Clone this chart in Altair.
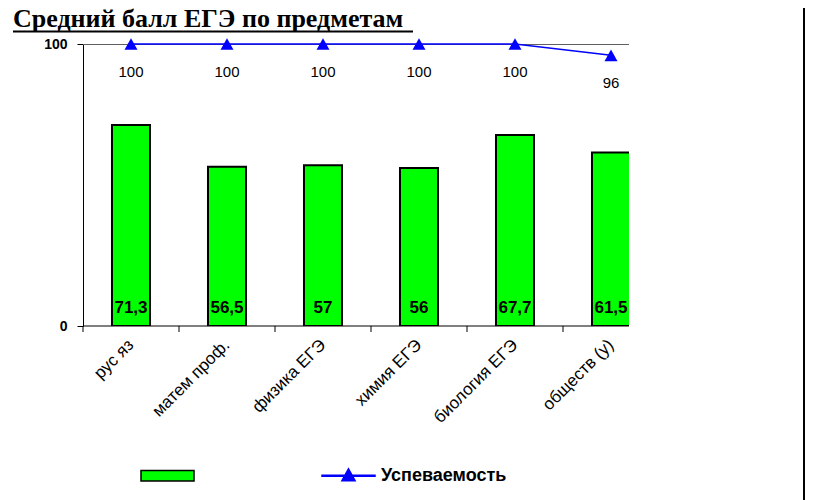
import altair as alt
import pandas as pd

# ---- data ----
categories = ["рус яз", "матем проф.", "физика ЕГЭ", "химия ЕГЭ", "биология ЕГЭ", "обществ (у)"]
avg_scores = [71.3, 56.5, 57, 56, 67.7, 61.5]
success = [100, 100, 100, 100, 100, 96]
series_names = ["Средний балл", "Успеваемость"]
title_text = "Средний балл ЕГЭ по предметам"

df = pd.DataFrame({"cat": categories, "score": avg_scores, "succ": success})
df["score_label"] = [f"{v:g}".replace(".", ",") for v in avg_scores]
legend_df = pd.DataFrame({"series": series_names, "v": [None, None]})
one = pd.DataFrame({"t": [title_text]})

W, H = 546, 282
FONT = "Liberation Sans, Arial, sans-serif"
TRI = "M0,-0.9L1,0.9L-1,0.9Z"
BOX = "M-1,-0.2H1V0.2H-1Z"
LINETRI = "M-1,-0.015H1V0.015H-1Z M0,-0.26L0.25,0.19L-0.25,0.19Z"

xs = alt.Scale(domain=categories, range=[0, 576], paddingInner=0, paddingOuter=0)
ys = alt.Scale(domain=[0, 100], nice=False, zero=True)

x_axis = alt.Axis(title=None, domain=False, ticks=False, labelAngle=-45,
                  labelAlign="right", labelBaseline="middle", labelPadding=16,
                  labelFont=FONT, labelFontSize=17, labelColor="#000",
                  labelOverlap=False, labelLimit=0, grid=False)
y_axis = alt.Axis(title=None, values=[0, 100], grid=False,
                  domainColor="#000", tickColor="#000", tickSize=6, labelPadding=10,
                  labelFont=FONT, labelFontWeight="bold", labelFontSize=14,
                  labelColor="#000")

X = alt.X("cat:N", scale=xs, sort=categories, axis=x_axis)

top_grid = alt.Chart(one).mark_rule(color="#606060", strokeWidth=1).encode(
    x=alt.value(0), x2=alt.value(W), y=alt.value(0.5))

bars = alt.Chart(df).mark_bar(width={"band": 0.396}, fill="#00ff00", stroke="#000",
                              strokeWidth=2, clip=True).encode(
    x=X, y=alt.Y("score:Q", scale=ys, axis=y_axis))

bar_labels = alt.Chart(df).mark_text(baseline="alphabetic", dy=-13, font=FONT,
                                     fontWeight="bold", fontSize=17, color="#000").encode(
    x=X, y=alt.Y(datum=0, scale=ys, axis=y_axis), text="score_label:N")

line = alt.Chart(df).mark_line(color="#0000ff", strokeWidth=1.5).encode(
    x=X, y=alt.Y("succ:Q", scale=ys, axis=y_axis))

points = alt.Chart(df).mark_point(shape=TRI, filled=True, size=169, color="#0000ff",
                                  opacity=1).encode(
    x=X, y=alt.Y("succ:Q", scale=ys, axis=y_axis))

line_labels = alt.Chart(df).mark_text(baseline="alphabetic", dy=33, font=FONT,
                                      fontSize=15, color="#000").encode(
    x=X, y=alt.Y("succ:Q", scale=ys, axis=y_axis), text="succ:Q")

ticks = alt.Chart(df).mark_rule(color="#000", strokeWidth=1).encode(
    x=alt.X("cat:N", scale=xs, sort=categories, axis=x_axis, bandPosition=0),
    y=alt.value(H), y2=alt.value(H + 6))

x_line = alt.Chart(one).mark_rule(color="#000", strokeWidth=1).encode(
    x=alt.value(0), x2=alt.value(W), y=alt.value(H))

leg = alt.Legend(orient="none", legendX=57, legendY=404, direction="horizontal",
                 title=None,
                 labelExpr="datum.label == 'Успеваемость' ? datum.label : ''",
                 labelFont=FONT, labelFontSize=18, labelFontWeight="bold",
                 labelColor="#000", labelOffset=5, columnPadding=119,
                 symbolSize=2809, symbolStrokeWidth=1.5)

legend_layer = alt.Chart(legend_df).mark_point(filled=True, strokeWidth=1.5,
                                               size=2809, opacity=1).encode(
    y=alt.Y("v:Q", scale=ys, axis=y_axis),
    color=alt.Color("series:N", scale=alt.Scale(domain=series_names,
                                                range=["#00ff00", "#0000ff"]), legend=leg),
    shape=alt.Shape("series:N", scale=alt.Scale(domain=series_names,
                                                range=[BOX, LINETRI]), legend=leg),
    stroke=alt.Stroke("series:N", scale=alt.Scale(domain=series_names,
                                                  range=["#000000", "#0000ff"]), legend=leg),
)

title = alt.Chart(one).mark_text(align="left", baseline="alphabetic",
                                 font="Liberation Serif, Times New Roman, serif",
                                 fontWeight="bold", fontSize=26, color="#000").encode(
    x=alt.value(-70), y=alt.value(-17), text="t:N")
underline = alt.Chart(one).mark_rule(color="#000", strokeWidth=2).encode(
    x=alt.value(-70), x2=alt.value(330), y=alt.value(-12.5))
frame = alt.Chart(one).mark_rule(color="#000", strokeWidth=2).encode(
    x=alt.value(721), y=alt.value(-36), y2=alt.value(456))

chart = alt.layer(top_grid, bars, bar_labels, line, points, line_labels, ticks, x_line,
                  legend_layer, title, underline, frame).properties(
    width=W, height=H,
    autosize=alt.AutoSizeParams(type="none"),
    padding={"left": 75, "top": 36, "right": 177, "bottom": 174},
).configure_view(stroke=None)

chart.save("out.html", embed_options={"renderer": "svg", "actions": False})
